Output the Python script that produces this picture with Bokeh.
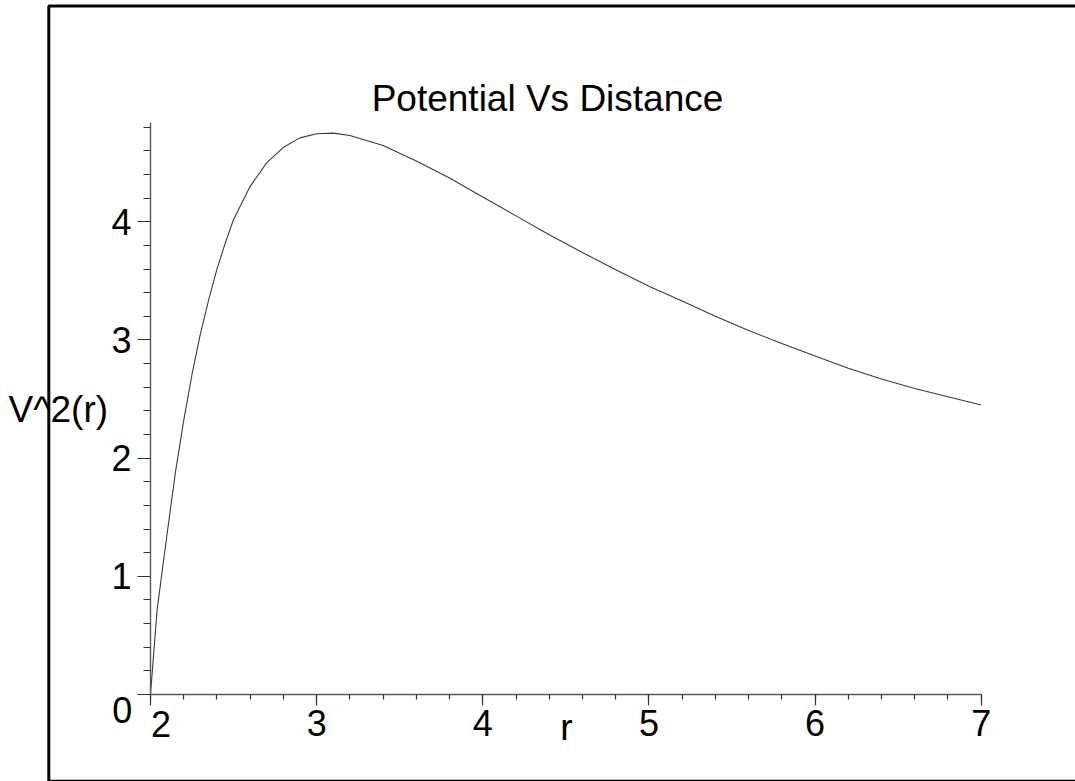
from bokeh.plotting import figure
from bokeh.models import FixedTicker, Label
from bokeh.embed import file_html
from bokeh.resources import INLINE

# ---- data ----
r_vals = [2.0, 2.04, 2.1, 2.15, 2.2, 2.25, 2.3, 2.35, 2.4, 2.45, 2.5, 2.6, 2.7, 2.8, 2.9,
          3.0, 3.1, 3.2, 3.4, 3.6, 3.8, 4.0, 4.2, 4.4, 4.6, 4.8, 5.0, 5.2, 5.4, 5.6,
          5.8, 6.0, 6.2, 6.4, 6.6, 6.8, 7.0]
v2_vals = [0.0, 0.72, 1.36, 1.88, 2.32, 2.71, 3.05, 3.34, 3.60, 3.82, 4.02, 4.30, 4.50,
           4.63, 4.71, 4.745, 4.75, 4.73, 4.645, 4.515, 4.37, 4.21, 4.05, 3.89, 3.74,
           3.595, 3.455, 3.33, 3.20, 3.08, 2.97, 2.865, 2.76, 2.67, 2.59, 2.52, 2.45]
x_ticks = [2, 3, 4, 5, 6, 7]
x_minor = [2 + 0.2 * i for i in range(26)]
y_ticks = [0, 1, 2, 3, 4]
y_minor = [0.2 * i for i in range(25)]
title_text = "Potential Vs Distance"
x_label = "r"
y_label = "V^2(r)"

FONT = "Liberation Sans"
W, H = 1075, 781
# pixel placement of the plotting box inside the picture
PX_L, PX_R, PX_T, PX_B = 150.0, 980.7, 122.0, 694.0
X0, X1 = 2.0, 7.0
Y0, Y1 = 0.0, 4.84
sx = (PX_R - PX_L) / (X1 - X0)
sy = (PX_B - PX_T) / (Y1 - Y0)

def dx(px):
    return X0 + (px - PX_L) / sx

def dy(py):
    return Y0 + (PX_B - py) / sy

p = figure(width=W, height=H, x_range=(dx(0), dx(W)), y_range=(dy(H), dy(0)),
           output_backend="svg", toolbar_location=None, min_border=0)
p.grid.visible = False
p.outline_line_color = None
p.background_fill_color = "white"
p.border_fill_color = "white"

axcol = "#5a5a5a"
for ax, ticks, minor, tout, mout, loc, bnds in (
        (p.xaxis[0], x_ticks, x_minor, 11, 5, Y0, (X0, X1)),
        (p.yaxis[0], y_ticks, y_minor, 13, 7, X0, (Y0, Y1))):
    ax.fixed_location = loc
    ax.bounds = bnds
    ax.ticker = FixedTicker(ticks=ticks, minor_ticks=minor)
    ax.axis_line_color = axcol
    ax.axis_line_width = 1.4
    ax.major_tick_line_color = "#333333"
    ax.minor_tick_line_color = "#333333"
    ax.major_tick_line_width = 1.2
    ax.minor_tick_line_width = 1.2
    ax.major_tick_out = tout
    ax.major_tick_in = 0
    ax.minor_tick_out = mout
    ax.minor_tick_in = 0
    ax.major_label_text_font = FONT
    ax.major_label_text_font_size = "36px"
    ax.major_label_text_color = "black"

p.xaxis.major_label_standoff = 4
p.yaxis.major_label_standoff = 6
p.xaxis.major_label_overrides = {2: ""}
p.yaxis.major_label_overrides = {0: ""}

# outer frame of the original picture (left, top and bottom edges are visible)
fx = [dx(48.3), dx(48.3), dx(1100)]
fy = [dy(781.0), dy(5.5), dy(5.5)]
p.line(fx, fy, line_color="black", line_width=3)
p.line([dx(48.3), dx(1100)], [dy(780.3), dy(780.3)], line_color="black", line_width=2)

p.line(r_vals, v2_vals, line_color="#3a3a3a", line_width=1.1)

SHIFT = 13  # Bokeh's label baseline sits lower than the requested pixel

def lab(text, px, py, align, size="36px"):
    p.add_layout(Label(x=dx(px), y=dy(py - SHIFT), text=text, text_align=align,
                       text_baseline="alphabetic", text_font=FONT,
                       text_font_size=size, text_color="black"))

lab(str(y_ticks[0]), 131.7, 722.7, "right")
lab(str(x_ticks[0]), 150.5, 736.7, "left")
lab(x_label, 566, 740, "center", "37px")
lab(y_label, 8, 421.7, "left", "37px")
lab(title_text, 547, 110.7, "center", "37px")

open("out.html", "w").write(file_html(p, INLINE))
